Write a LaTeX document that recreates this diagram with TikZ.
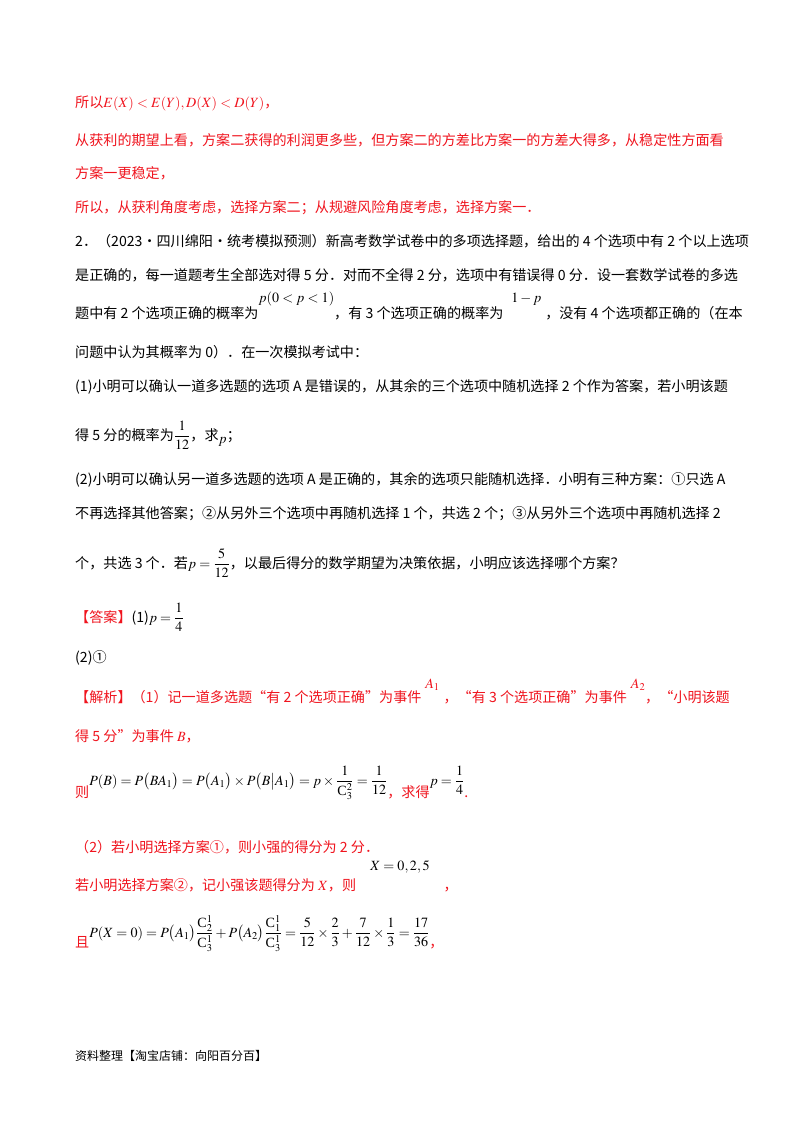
\documentclass[tikz,border=0pt]{standalone}
\usepackage{amsmath}
\usepackage{mathptmx}
\usepackage{fontspec}
\setmainfont{Noto Sans CJK SC}
\newfontfamily\tms{Liberation Serif}
\newcommand{\Cc}{\text{\tms C}}
\definecolor{rd}{RGB}{240,20,30}
\newcommand{\cR}{\color{rd}}
\begin{document}
\begin{tikzpicture}[x=1pt,y=-1pt,every node/.style={anchor=base west,inner sep=0pt,font=\fontsize{14.1}{16}\selectfont}]
\useasboundingbox[fill=white] (0,0) rectangle (800,1132);
\node (l1) at (75,107) {\cR 所以$E(X)<E(Y),D(X)<D(Y)$，};
\node (l2) at (75,145) {\cR 从获利的期望上看，方案二获得的利润更多些，但方案二的方差比方案一的方差大得多，从稳定性方面看};
\node (l3) at (75,178) {\cR 方案一更稳定，};
\node (l4) at (75,212) {\cR 所以，从获利角度考虑，选择方案二；从规避风险角度考虑，选择方案一．};
\node (l5) at (75,246) {2．（2023·四川绵阳·统考模拟预测）新高考数学试卷中的多项选择题，给出的 4 个选项中有 2 个以上选项};
\node (l6) at (75,280) {是正确的，每一道题考生全部选对得 5 分．对而不全得 2 分，选项中有错误得 0 分．设一套数学试卷的多选};
\node (l7) at (75,318) {题中有 2 个选项正确的概率为\raisebox{16pt}{$p(0<p<1)$}，有 3 个选项正确的概率为\raisebox{16pt}{\;\;$1-p$}\;，没有 4 个选项都正确的（在本};
\node (l8) at (75,357) {问题中认为其概率为 0）．在一次模拟考试中：};
\node (l9) at (75,391) {(1)小明可以确认一道多选题的选项 A 是错误的，从其余的三个选项中随机选择 2 个作为答案，若小明该题};
\node (l10) at (75,440) {得 5 分的概率为$\dfrac{1}{12}$，求\raisebox{-3pt}{$p$}；};
\node (l11) at (75,484) {(2)小明可以确认另一道多选题的选项 A 是正确的，其余的选项只能随机选择．小明有三种方案：①只选 A};
\node (l12) at (75,518) {不再选择其他答案；②从另外三个选项中再随机选择 1 个，共选 2 个；③从另外三个选项中再随机选择 2};
\node (l13) at (75,568) {个，共选 3 个．若$p=\dfrac{5}{12}$，以最后得分的数学期望为决策依据，小明应该选择哪个方案？};
\node (l14) at (75,622) {{\cR 【答案】}(1)$p=\dfrac{1}{4}$};
\node (l15) at (75,662) {(2)①};
\node (l16) at (75,702) {\cR 【解析】（1）记一道多选题“有 2 个选项正确”为事件\raisebox{14pt}{\;$A_1$}\;，“有 3 个选项正确”为事件\raisebox{14pt}{\;$A_2$}，“小明该题};
\node (l17) at (75,741) {\cR 得 5 分”为事件 $B$，};
\node (l18) at (75,797) {\cR 则\raisebox{12pt}{\color{black}$P(B)=P\big(BA_1\big)=P\big(A_1\big)\times P\big(B\big|A_1\big)=p\times\dfrac{1}{\Cc_3^2}=\dfrac{1}{12}$}，求得\raisebox{12pt}{\color{black}$p=\dfrac14$}.};
\node (l19) at (75,852) {\cR （2）若小明选择方案①，则小强的得分为 2 分．};
\node (l20) at (75,890) {\cR 若小明选择方案②，记小强该题得分为 $X$，则\raisebox{20pt}{\quad{\color{black}$X=0,2,5$}}\quad ，};
\node (l21) at (75,947) {\cR 且\raisebox{10pt}{\color{black}$P(X=0)=P\big(A_1\big)\dfrac{\Cc_2^1}{\Cc_3^1}+P\big(A_2\big)\dfrac{\Cc_1^1}{\Cc_3^1}=\dfrac{5}{12}\times\dfrac23+\dfrac{7}{12}\times\dfrac13=\dfrac{17}{36}$}，};
\node[font=\fontsize{12}{14}\selectfont] (l22) at (75,1060) {资料整理【淘宝店铺：向阳百分百】};
\end{tikzpicture}
\end{document}
